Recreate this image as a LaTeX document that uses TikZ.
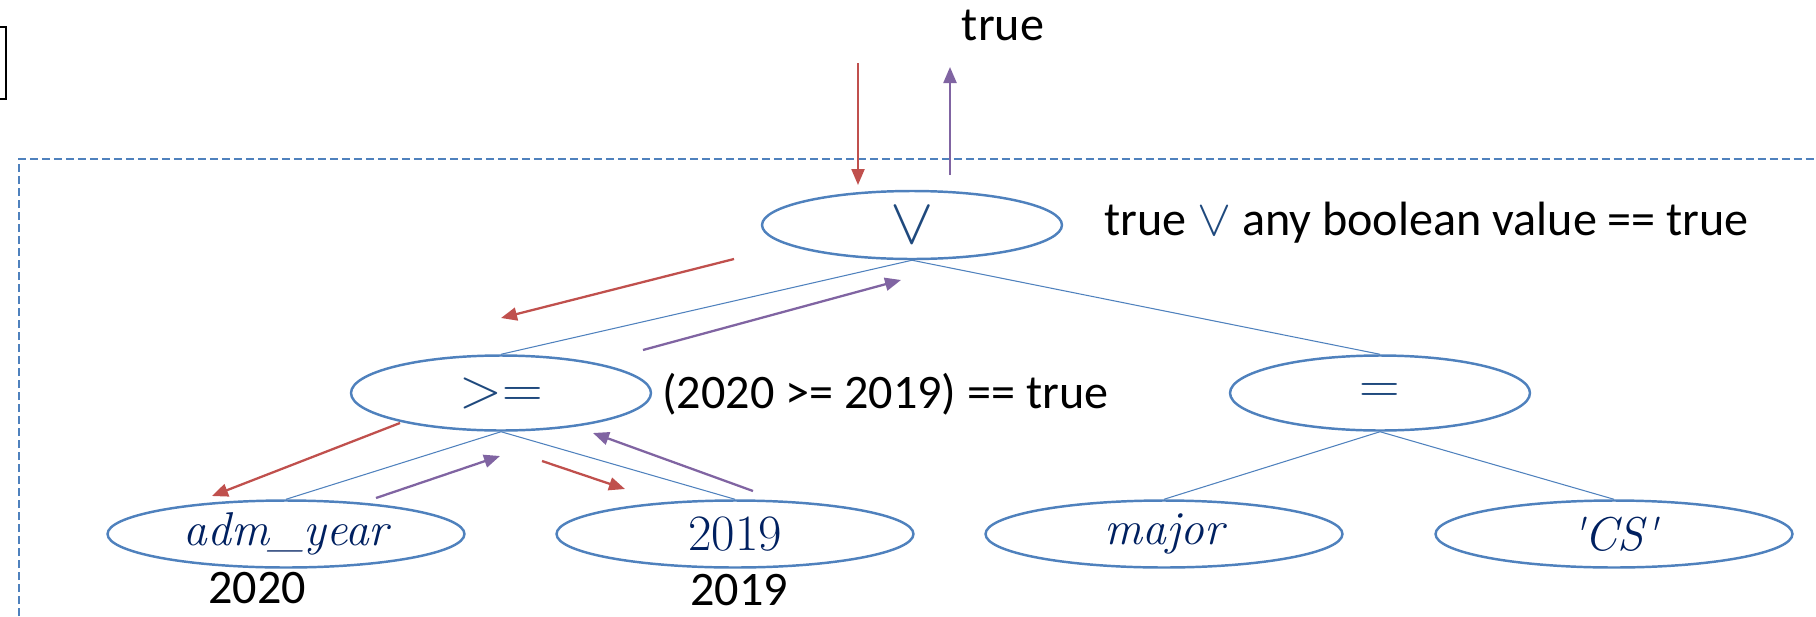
\RequirePackage{fix-cm}
\documentclass[tikz,border=0pt]{standalone}
\usepackage{fontspec}
\setsansfont{Carlito}
\usetikzlibrary{shapes.geometric,arrows.meta}
\definecolor{ellblue}{HTML}{4F81BD}
\definecolor{opblue}{HTML}{1F497D}
\definecolor{leafblue}{HTML}{002060}
\definecolor{evalred}{HTML}{C0504D}
\definecolor{retpurple}{HTML}{8064A2}
\newcommand{\bigtxt}{\fontsize{27.4}{32}\selectfont\sffamily}

\begin{document}
\begin{tikzpicture}[x=0.02cm,y=-0.02cm,
        opnode/.style={ellipse,draw=ellblue,line width=1.4pt,minimum width=6cm,minimum height=1.5cm,inner sep=0pt,text=opblue,font=\fontsize{32}{36}\selectfont},
        leafnode/.style={ellipse,draw=ellblue,line width=1.4pt,minimum width=7.14cm,minimum height=1.34cm,inner sep=0pt,text=leafblue,font=\fontsize{27}{30}\selectfont\itshape},
        treeedge/.style={draw=ellblue,line width=0.6pt},
        evalarr/.style={-{Triangle[length=0.32cm,width=0.26cm]},draw=evalred,fill=evalred,line width=1.3pt},
        retarr/.style={-{Triangle[length=0.32cm,width=0.26cm]},draw=retpurple,fill=retpurple,line width=1.3pt},
        lbl/.style={inner sep=0pt,font=\bigtxt}]
        \useasboundingbox (0,0) rectangle (1816,616);
        \draw[line width=1.1pt] (0,27) -- (6,27) -- (6,99) -- (0,99);
        \draw[ellblue,line width=1.1pt,dash pattern=on 0.17cm off 0.07cm] (19,640) -- (19,159) -- (1840,159);

        \node[opnode,minimum height=1.36cm,font=\fontsize{37}{40}\selectfont] (or) at (912,225) {$\vee$};
        \node[opnode] (geq) at (501,393) {$>=$};
        \node[opnode] (eq) at (1380,393) {$=$};
        \node[leafnode] (year) at (286,534) {adm\_year};
        \node[leafnode,font=\fontsize{29}{32}\selectfont] (lit) at (735,534) {2019};
        \node[leafnode] (major) at (1164,534) {major};
        \node[leafnode] (cs) at (1614,534) {\textquotesingle CS\textquotesingle};

        \draw[treeedge] (or.south) -- (geq.north);
        \draw[treeedge] (or.south) -- (eq.north);
        \draw[treeedge] (geq.south) -- (year.north);
        \draw[treeedge] (geq.south) -- (lit.north);
        \draw[treeedge] (eq.south) -- (major.north);
        \draw[treeedge] (eq.south) -- (cs.north);

        \draw[evalarr] (858,63) coordinate (call0) -- (858,185) coordinate (call1);
        \draw[retarr] (950,175) coordinate (ret0) -- (950,67) coordinate (ret1);
        \draw[evalarr] (734,259) coordinate (call2) -- (501,318) coordinate (call3);
        \draw[retarr] (643,350) coordinate (ret2) -- (901,280) coordinate (ret3);
        \draw[evalarr] (400,423) coordinate (call4) -- (212,496) coordinate (call5);
        \draw[retarr] (376,498) coordinate (ret4) -- (500,456) coordinate (ret5);
        \draw[evalarr] (542,461) coordinate (call6) -- (625,489) coordinate (call7);
        \draw[retarr] (753,491) coordinate (ret6) -- (593,433) coordinate (ret7);

        \node[lbl] (res) at (1003,25) {true};
        \node[lbl,anchor=west] (orrule) at (1104,223) {true {\color{opblue}\fontsize{29}{34}\selectfont$\vee$} any boolean value == true};
        \node[lbl,anchor=west] (geqrule) at (662,394) {(2020 >= 2019) == true};
        \node[lbl] (yearval) at (257,588) {2020};
        \node[lbl] (litval) at (739,590) {2019};
\end{tikzpicture}
\end{document}
